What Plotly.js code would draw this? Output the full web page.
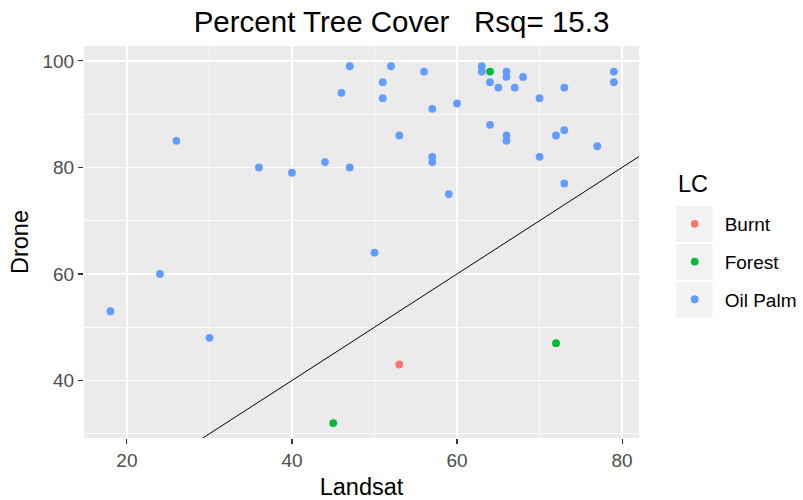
<!DOCTYPE html>
<html>
<head>
<meta charset="utf-8">
<script src="https://cdn.plot.ly/plotly-3.0.1.min.js"></script>
<style>
  html, body { margin: 0; padding: 0; background: #ffffff; }
  #chart { width: 803px; height: 500px; }
</style>
</head>
<body>
<div id="chart"></div>
<script>
// Land-cover classes and their colours (ggplot2 default hue palette)
const classNames = ["Burnt", "Forest", "Oil Palm"];
const classColors = ["#F8766D", "#00BA38", "#619CFF"];

// Percent tree cover: Landsat estimate (x) vs drone estimate (y)
const burntLandsat = [53];
const burntDrone   = [43];

const forestLandsat = [64, 45, 72];
const forestDrone   = [98, 32, 47];

const palmLandsat = [47, 46, 26, 36, 40, 44, 47, 52, 56, 51, 51, 57, 60, 63, 63,
                     64, 65, 66, 66, 68, 67, 70, 73, 79, 79, 64, 53, 66, 66, 72,
                     73, 77, 57, 57, 70, 73, 59, 24, 18, 30, 50];
const palmDrone   = [99, 94, 85, 80, 79, 81, 80, 99, 98, 96, 93, 91, 92, 99, 98,
                     96, 95, 98, 97, 97, 95, 93, 95, 98, 96, 88, 86, 86, 85, 86,
                     87, 84, 82, 81, 82, 77, 75, 60, 53, 48, 64];

const titleText = "Percent Tree Cover\u00A0\u00A0\u00A0Rsq= 15.3";
const xTitle = "Landsat";
const yTitle = "Drone";
const legendTitle = "LC";

const xRange = [14.8, 82.05];
const yRange = [29.2, 102.8];

const FONT = "Liberation Sans, Arial, Helvetica, sans-serif";

function pointTrace(name, xs, ys, color, rank) {
  return {
    type: "scatter",
    mode: "markers",
    name: name,
    x: xs,
    y: ys,
    legendgroup: name,
    legendrank: rank,
    marker: { color: color, size: 7.8, line: { width: 0 } },
    hoverinfo: "x+y+name"
  };
}

// 1:1 reference line spanning the panel
const oneToOne = {
  type: "scatter",
  mode: "lines",
  x: xRange.slice(),
  y: xRange.slice(),
  showlegend: false,
  hoverinfo: "skip",
  line: { color: "#000000", width: 1 }
};

const traces = [
  pointTrace(classNames[2], palmLandsat, palmDrone, classColors[2], 3),
  pointTrace(classNames[0], burntLandsat, burntDrone, classColors[0], 1),
  pointTrace(classNames[1], forestLandsat, forestDrone, classColors[1], 2),
  oneToOne
];

// Plot-area geometry in pixels
const W = 803, H = 500;
const M = { l: 84, r: 164, t: 46, b: 62, autoexpand: false };
const plotW = W - M.l - M.r;
const plotH = H - M.t - M.b;
const px2paperX = px => (px - M.l) / plotW;
const px2paperY = py => (H - M.b - py) / plotH;

// Grey key backgrounds behind the legend symbols
const keyTops = [206, 244, 281.5];
const keySize = 36;
const keyShapes = keyTops.map(top => ({
  type: "rect",
  xref: "paper", yref: "paper",
  x0: px2paperX(676.5), x1: px2paperX(676.5 + keySize),
  y0: px2paperY(top + keySize), y1: px2paperY(top),
  fillcolor: "#F2F2F2",
  line: { width: 0 },
  layer: "below"
}));

const axisCommon = {
  showgrid: true,
  gridcolor: "#FFFFFF",
  gridwidth: 1.6,
  zeroline: false,
  showline: false,
  ticks: "outside",
  ticklen: 5,
  tickwidth: 1.1,
  tickcolor: "#333333",
  tickfont: { family: FONT, size: 19, color: "#4D4D4D" },
  automargin: false
};

const layout = {
  width: W,
  height: H,
  margin: M,
  paper_bgcolor: "#FFFFFF",
  plot_bgcolor: "#EBEBEB",
  title: {
    text: titleText,
    x: 0.5,
    xref: "container",
    xanchor: "center",
    y: 0.957,
    yref: "container",
    yanchor: "middle",
    font: { family: FONT, size: 29.5, color: "#000000" }
  },
  xaxis: Object.assign({}, axisCommon, {
    range: xRange,
    tickvals: [20, 40, 60, 80],
    ticktext: ["20", "40", "60", "80"],
    minor: { tickvals: [30, 50, 70], showgrid: true, gridcolor: "#FFFFFF", gridwidth: 0.8 },
    title: { text: xTitle, font: { family: FONT, size: 23.5, color: "#000000" }, standoff: 10 }
  }),
  yaxis: Object.assign({}, axisCommon, {
    range: yRange,
    tickvals: [40, 60, 80, 100],
    ticktext: ["40", "60", "80", "100"],
    minor: { tickvals: [30, 50, 70, 90], showgrid: true, gridcolor: "#FFFFFF", gridwidth: 0.8 },
    title: { text: yTitle, font: { family: FONT, size: 23.5, color: "#000000" }, standoff: 7 }
  }),
  showlegend: true,
  legend: {
    font: { family: FONT, size: 19, color: "#000000" },
    x: px2paperX(664.7),
    xanchor: "left",
    y: px2paperY(205),
    yanchor: "top",
    bgcolor: "rgba(0,0,0,0)",
    borderwidth: 0,
    tracegroupgap: 10,
    itemwidth: 50,
    traceorder: "grouped"
  },
  annotations: [{
    text: legendTitle,
    xref: "paper", yref: "paper",
    x: px2paperX(675.5), y: px2paperY(184),
    xanchor: "left", yanchor: "middle",
    showarrow: false,
    font: { family: FONT, size: 23.5, color: "#000000" }
  }],
  shapes: keyShapes,
  hovermode: "closest"
};

Plotly.newPlot("chart", traces, layout, { displayModeBar: false, staticPlot: true });
</script>
</body>
</html>
